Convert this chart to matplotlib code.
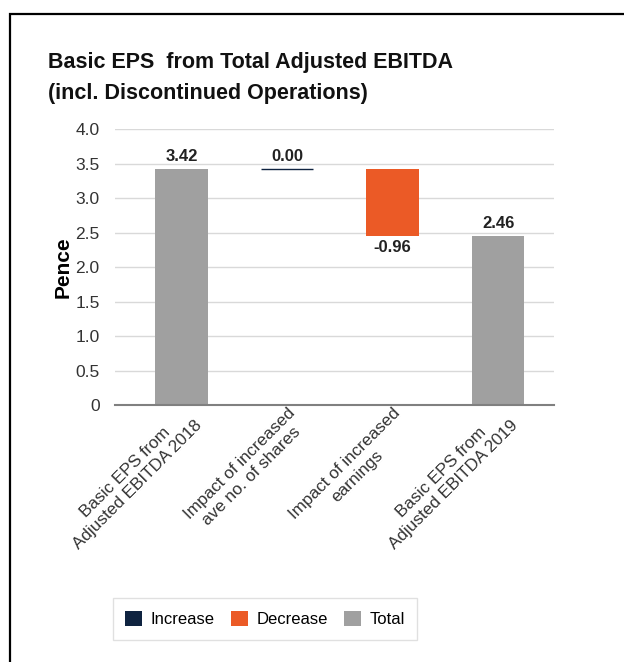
import numpy as np
import matplotlib
matplotlib.use("Agg")
import matplotlib.pyplot as plt
from matplotlib.patches import Patch, Rectangle
from matplotlib.ticker import FuncFormatter

# --- data ---
categories = [
    "Basic EPS from\nAdjusted EBITDA 2018",
    "Impact of increased\nave no. of shares",
    "Impact of increased\nearnings",
    "Basic EPS from\nAdjusted EBITDA 2019",
]
values = [3.42, 0.00, -0.96, 2.46]
kinds = ["total", "increase", "decrease", "total"]
labels = ["3.42", "0.00", "-0.96", "2.46"]

colors = {"increase": "#0f2340", "decrease": "#eb5a26", "total": "#a0a0a0"}

plt.rcParams["font.family"] = ["Liberation Sans", "DejaVu Sans"]

fig = plt.figure(figsize=(6.24, 6.62), dpi=100)
ax = fig.add_axes([115 / 624, 1 - 405.3 / 662, 439 / 624, 276 / 662])

# outer frame (runs off the right and bottom edge)
fig.patches.append(Rectangle((10 / 624, -0.1), 1.2, 1 - 14 / 662 + 0.1,
                             transform=fig.transFigure, fill=False,
                             edgecolor="black", linewidth=1.6))

x = np.arange(len(categories))
running = 0.0
for i, (v, k, lab) in enumerate(zip(values, kinds, labels)):
    if k == "total":
        bottom, height = 0, v
        running = v
    else:
        bottom, height = running, v
        running += v
    ax.bar(x[i], height, bottom=bottom, width=0.5, color=colors[k],
           edgecolor=colors[k] if v == 0 else "none", linewidth=1.0, zorder=3)
    top = max(bottom, bottom + height)
    low = min(bottom, bottom + height)
    if v < 0:
        ax.text(x[i], low - 0.07, lab, ha="center", va="top",
                fontsize=12, fontweight="bold", color="#222222")
    else:
        ax.text(x[i], top + 0.07, lab, ha="center", va="bottom",
                fontsize=12, fontweight="bold", color="#222222")

ax.set_ylim(0, 4.0)
ax.set_xlim(-0.63, 3.53)
ax.set_yticks(np.arange(0, 4.01, 0.5))
ax.yaxis.set_major_formatter(FuncFormatter(lambda v, p: "0" if v == 0 else f"{v:.1f}"))
ax.grid(axis="y", color="#d9d9d9", linewidth=1.0, zorder=0)
ax.set_axisbelow(True)
for s in ["top", "right", "left"]:
    ax.spines[s].set_visible(False)
ax.spines["bottom"].set_color("#808080")
ax.spines["bottom"].set_linewidth(1.5)
ax.spines["bottom"].set_zorder(4)
ax.tick_params(axis="y", length=0, pad=11, labelsize=12.5, labelcolor="#333333")
ax.tick_params(axis="x", length=0, pad=0)

ax.set_xticks(x)
ax.set_xticklabels(categories, rotation=45, ha="right", va="top",
                   rotation_mode="anchor", fontsize=12.3, color="#333333",
                   multialignment="center")

ax.set_ylabel("Pence", fontsize=15, fontweight="bold", labelpad=2)

fig.text(48 / 624, 1 - 52 / 662, "Basic EPS  from Total Adjusted EBITDA\n(incl. Discontinued Operations)",
         ha="left", va="top", fontsize=15.5, fontweight="bold", linespacing=1.6,
         color="#111111")

handles = [Patch(facecolor=colors[k], edgecolor="none") for k in ["increase", "decrease", "total"]]
leg = fig.legend(handles, ["Increase", "Decrease", "Total"], loc="center",
                 bbox_to_anchor=(265 / 624, 1 - 619 / 662), ncol=3, frameon=True,
                 fancybox=False, edgecolor="#d9d9d9", fontsize=12,
                 handlelength=1.0, handleheight=1.0, handletextpad=0.5,
                 columnspacing=1.0, borderpad=0.75)
leg.get_frame().set_linewidth(1.0)

fig.savefig("out.png", dpi=100)
